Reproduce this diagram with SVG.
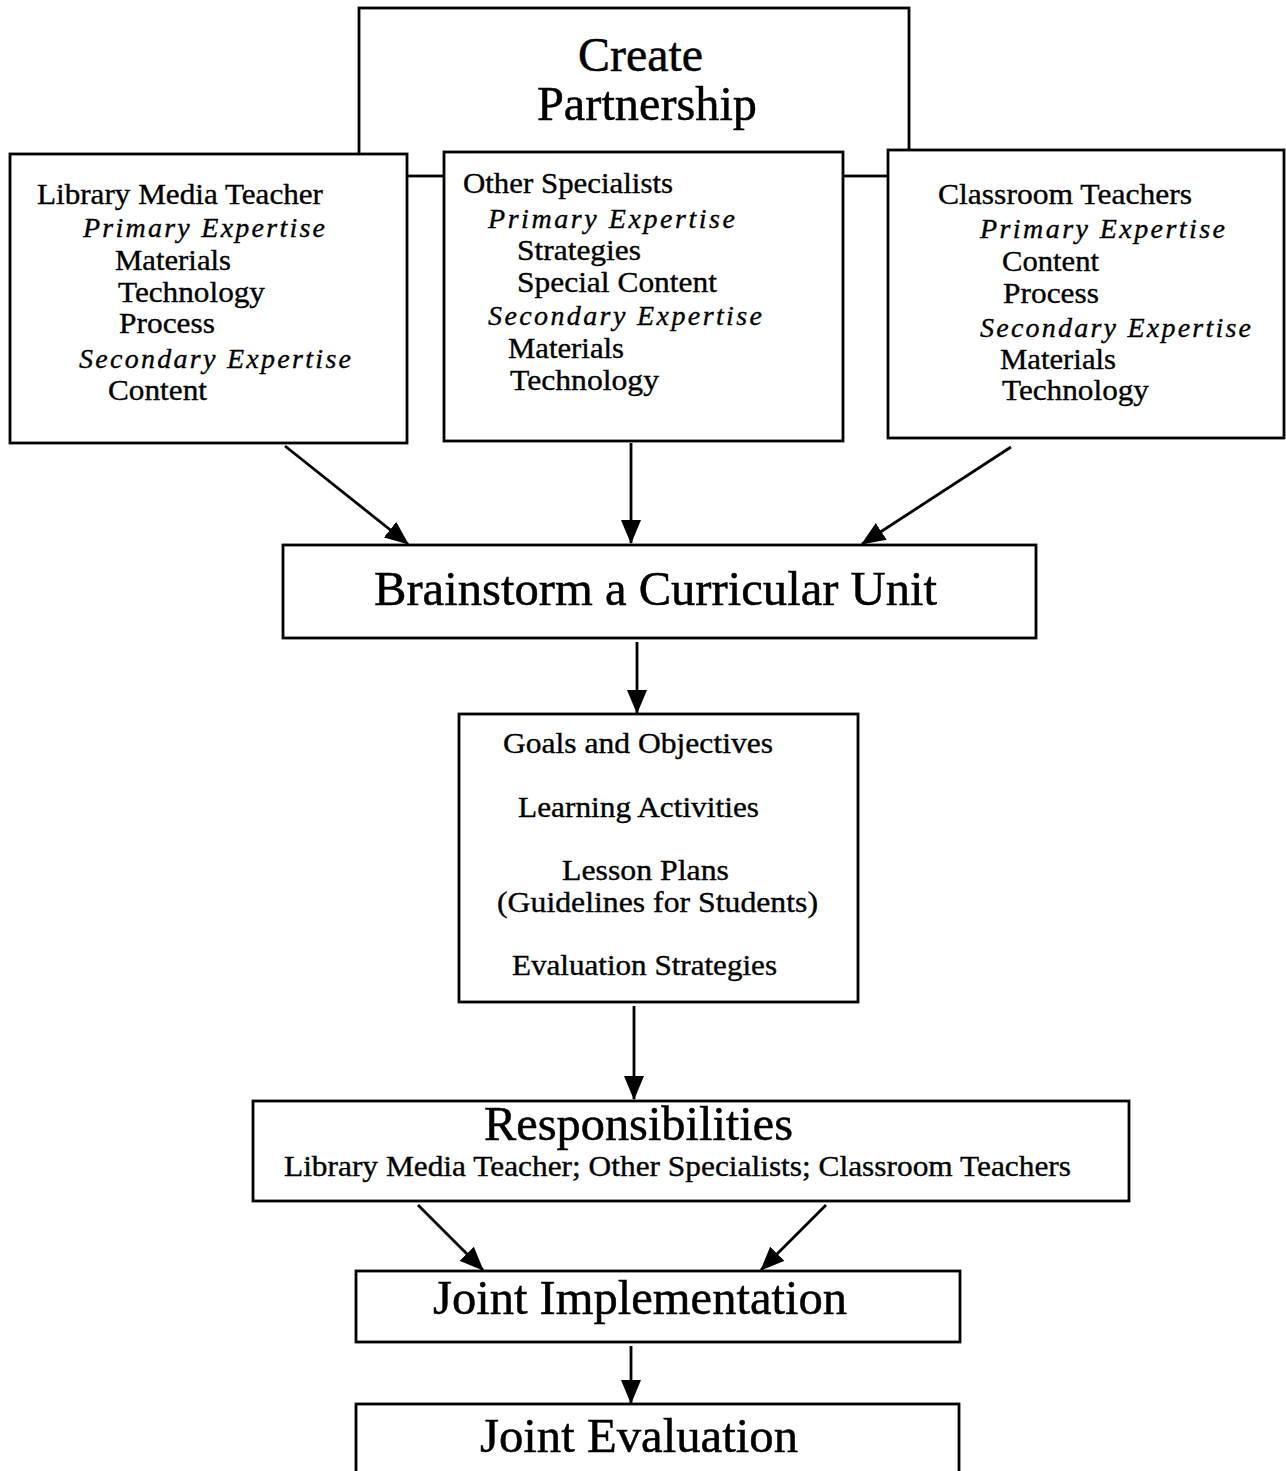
<svg xmlns="http://www.w3.org/2000/svg" width="1286" height="1471" viewBox="0 0 1286 1471">
  <style>
    .box { fill: #fff; stroke: #000; stroke-width: 2.8; }
    text { font-family: 'Liberation Serif', Tinos, 'Times New Roman', Times, serif; fill: #000; stroke: #000; stroke-width: 0.35; }
    .s { font-size: 29px; }
    .i { font-size: 28px; font-style: italic; }
    .b { font-size: 48px; stroke-width: 0.5; }
    .link { stroke: #000; stroke-width: 2.8; fill: none; }
  </style>
  <defs>
    <marker id="arrow" viewBox="0 0 24 20" refX="23" refY="10" markerWidth="24" markerHeight="20" markerUnits="userSpaceOnUse" orient="auto">
      <path d="M0,0 L24,10 L0,20 Z" fill="#000"/>
    </marker>
  </defs>

  <!-- top node; its lower edge runs behind the three role boxes -->
  <g id="create-partnership">
    <rect class="box" x="359" y="8" width="550" height="168"/>
    <text class="b" x="578" y="71" textLength="125" lengthAdjust="spacingAndGlyphs">Create</text>
    <text class="b" x="537" y="120" textLength="220" lengthAdjust="spacingAndGlyphs">Partnership</text>
  </g>

  <g id="library-media-teacher">
    <rect class="box" x="10" y="154" width="397" height="289"/>
    <text class="s" x="37" y="204" textLength="286" lengthAdjust="spacingAndGlyphs">Library Media Teacher</text>
    <text class="i" x="83" y="237" textLength="242" lengthAdjust="spacing">Primary Expertise</text>
    <text class="s" x="115" y="270" textLength="116" lengthAdjust="spacingAndGlyphs">Materials</text>
    <text class="s" x="118" y="302" textLength="147" lengthAdjust="spacingAndGlyphs">Technology</text>
    <text class="s" x="119" y="333" textLength="96" lengthAdjust="spacingAndGlyphs">Process</text>
    <text class="i" x="79" y="368" textLength="272" lengthAdjust="spacing">Secondary Expertise</text>
    <text class="s" x="108" y="400" textLength="99" lengthAdjust="spacingAndGlyphs">Content</text>
  </g>

  <g id="other-specialists">
    <rect class="box" x="444" y="152" width="399" height="289"/>
    <text class="s" x="463" y="193" textLength="210" lengthAdjust="spacingAndGlyphs">Other Specialists</text>
    <text class="i" x="488" y="228" textLength="247" lengthAdjust="spacing">Primary Expertise</text>
    <text class="s" x="517" y="260" textLength="124" lengthAdjust="spacingAndGlyphs">Strategies</text>
    <text class="s" x="517" y="292" textLength="200" lengthAdjust="spacingAndGlyphs">Special Content</text>
    <text class="i" x="488" y="325" textLength="274" lengthAdjust="spacing">Secondary Expertise</text>
    <text class="s" x="508" y="358" textLength="116" lengthAdjust="spacingAndGlyphs">Materials</text>
    <text class="s" x="510" y="390" textLength="149" lengthAdjust="spacingAndGlyphs">Technology</text>
  </g>

  <g id="classroom-teachers">
    <rect class="box" x="888" y="150" width="396" height="288"/>
    <text class="s" x="938" y="204" textLength="254" lengthAdjust="spacingAndGlyphs">Classroom Teachers</text>
    <text class="i" x="980" y="238" textLength="245" lengthAdjust="spacing">Primary Expertise</text>
    <text class="s" x="1002" y="271" textLength="97" lengthAdjust="spacingAndGlyphs">Content</text>
    <text class="s" x="1003" y="303" textLength="96" lengthAdjust="spacingAndGlyphs">Process</text>
    <text class="i" x="980" y="337" textLength="271" lengthAdjust="spacing">Secondary Expertise</text>
    <text class="s" x="1000" y="369" textLength="116" lengthAdjust="spacingAndGlyphs">Materials</text>
    <text class="s" x="1002" y="400" textLength="147" lengthAdjust="spacingAndGlyphs">Technology</text>
  </g>

  <g id="brainstorm">
    <rect class="box" x="283" y="545" width="753" height="93"/>
    <text class="b" x="374" y="605" textLength="563" lengthAdjust="spacingAndGlyphs">Brainstorm a Curricular Unit</text>
  </g>

  <g id="unit-plan">
    <rect class="box" x="459" y="714" width="399" height="288"/>
    <text class="s" x="503" y="753" textLength="270" lengthAdjust="spacingAndGlyphs">Goals and Objectives</text>
    <text class="s" x="518" y="817" textLength="241" lengthAdjust="spacingAndGlyphs">Learning Activities</text>
    <text class="s" x="562" y="880" textLength="167" lengthAdjust="spacingAndGlyphs">Lesson Plans</text>
    <text class="s" x="497" y="912" textLength="321" lengthAdjust="spacingAndGlyphs">(Guidelines for Students)</text>
    <text class="s" x="512" y="975" textLength="265" lengthAdjust="spacingAndGlyphs">Evaluation Strategies</text>
  </g>

  <g id="responsibilities">
    <rect class="box" x="253" y="1101" width="876" height="100"/>
    <text class="b" x="484" y="1140" textLength="309" lengthAdjust="spacingAndGlyphs">Responsibilities</text>
    <text class="s" x="284" y="1176" textLength="787" lengthAdjust="spacingAndGlyphs">Library Media Teacher; Other Specialists; Classroom Teachers</text>
  </g>

  <g id="joint-implementation">
    <rect class="box" x="356" y="1271" width="604" height="71"/>
    <text class="b" x="433" y="1314" textLength="414" lengthAdjust="spacingAndGlyphs">Joint Implementation</text>
  </g>

  <g id="joint-evaluation">
    <rect class="box" x="356" y="1404" width="603" height="80"/>
    <text class="b" x="480" y="1452" textLength="318" lengthAdjust="spacingAndGlyphs">Joint Evaluation</text>
  </g>

  <g id="connectors">
    <line class="link" x1="285" y1="446" x2="408" y2="544" marker-end="url(#arrow)"/>
    <line class="link" x1="631" y1="443" x2="631" y2="543" marker-end="url(#arrow)"/>
    <line class="link" x1="1011" y1="447" x2="862" y2="544" marker-end="url(#arrow)"/>
    <line class="link" x1="637" y1="642" x2="637" y2="713" marker-end="url(#arrow)"/>
    <line class="link" x1="634" y1="1006" x2="634" y2="1099" marker-end="url(#arrow)"/>
    <line class="link" x1="418" y1="1205" x2="483" y2="1270" marker-end="url(#arrow)"/>
    <line class="link" x1="826" y1="1205" x2="761" y2="1270" marker-end="url(#arrow)"/>
    <line class="link" x1="631" y1="1346" x2="631" y2="1403" marker-end="url(#arrow)"/>
  </g>
</svg>
